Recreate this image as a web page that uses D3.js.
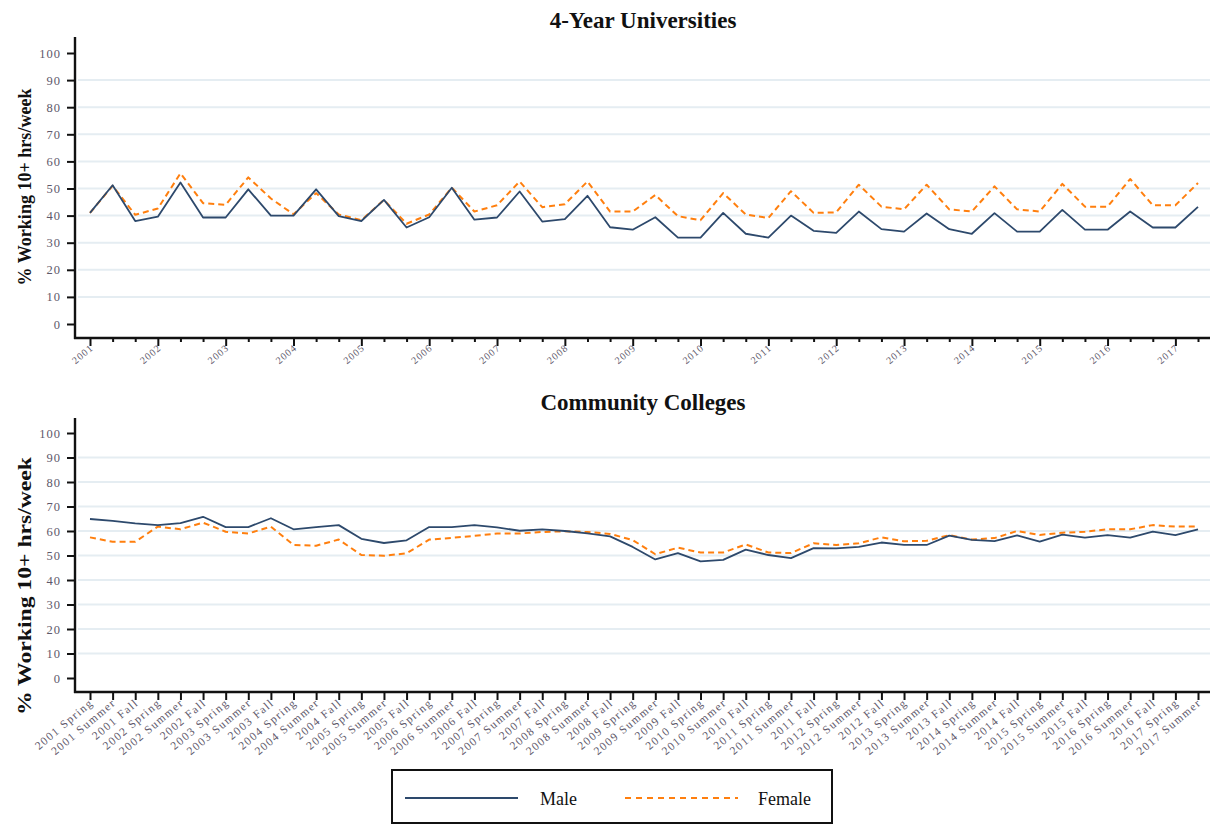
<!DOCTYPE html>
<html>
<head>
<meta charset="utf-8">
<script src="https://cdn.jsdelivr.net/npm/d3@7"></script>
<style>
  body { margin: 0; background: #fff; }
  svg { display: block; }
</style>
</head>
<body>
<svg id="chart" width="1210" height="826"></svg>
<script>
// Terms: spring 2001 through summer 2017
const years = [2001, 2002, 2003, 2004, 2005, 2006, 2007, 2008, 2009,
               2010, 2011, 2012, 2013, 2014, 2015, 2016, 2017];
const seasons = ["Spring", "Summer", "Fall"];
const yTicks = [0, 10, 20, 30, 40, 50, 60, 70, 80, 90, 100];
const seriesNames = ["Male", "Female"];

// % working 10+ hrs/week, 4-year universities
const univMale = [41, 51.2, 38, 39.6, 52.2, 39.3, 39.3, 49.7, 40, 40,
  49.7, 39.8, 38, 45.8, 35.6, 39.4, 50.3, 38.5, 39.3, 48.9,
  37.8, 38.7, 47.3, 35.7, 34.8, 39.4, 31.9, 31.9, 41, 33.3,
  31.9, 40, 34.4, 33.6, 41.5, 35, 34.1, 40.8, 35, 33.3,
  40.9, 34.1, 34.1, 42.1, 34.8, 34.8, 41.5, 35.6, 35.6, 43.2];
const univFemale = [41, 51, 40.3, 42.6, 55.6, 44.6, 44, 54.1, 46.3, 40.5,
  48.3, 40.4, 38.3, 45.8, 37, 40.4, 50.3, 41.5, 43.8, 52.6,
  43.1, 44.2, 52.6, 41.5, 41.5, 47.6, 39.8, 38.3, 48.3, 40.4,
  39.1, 49, 41, 41.2, 51.4, 43.3, 42.3, 51.4, 42.3, 41.5,
  50.8, 42.3, 41.5, 51.7, 43.3, 43.3, 53.5, 43.8, 43.8, 52];

// % working 10+ hrs/week, community colleges
const commMale = [64.9, 64.1, 63.1, 62.4, 63.2, 65.8, 61.6, 61.6, 65.2, 60.7,
  61.6, 62.4, 56.8, 55.1, 56.2, 61.6, 61.6, 62.4, 61.5, 60.1,
  60.7, 60, 59, 57.8, 53.5, 48.4, 51, 47.6, 48.2, 52.4,
  50.2, 48.9, 53, 52.9, 53.5, 55.3, 54.3, 54.3, 58.1, 56.4,
  55.9, 58.2, 55.7, 58.5, 57.3, 58.3, 57.3, 59.7, 58.3, 60.7];
const commFemale = [57.4, 55.6, 55.6, 61.8, 60.7, 63.4, 59.7, 59, 61.8, 54.3,
  54, 56.5, 50.2, 49.9, 50.9, 56.5, 57.2, 58, 59, 59,
  59.6, 59.9, 59.6, 58.8, 56.3, 50.5, 53.2, 51.2, 51.2, 54.5,
  51.2, 51, 55, 54.3, 55, 57.4, 55.8, 56, 58.3, 56.5,
  57.1, 60, 58.4, 59.3, 59.7, 60.7, 60.7, 62.4, 61.8, 61.8];

// Build the term list (the series stops after summer 2017)
const terms = [];
years.forEach(yr => seasons.forEach(s => terms.push({ year: yr, season: s, key: yr + " " + s })));
terms.splice(univMale.length);
const termKeys = terms.map(t => t.key);

const COLORS = { Male: "#2d496c", Female: "#ff7f0e" };
const SERIF = "'Liberation Serif', 'Times New Roman', serif";
const LABEL_COLOR = "#5e586a";

const svg = d3.select("#chart");

function panel(cfg) {
  const g = svg.append("g");
  const x = d3.scalePoint(termKeys, [90, 1198]);
  const y = d3.scaleLinear([0, 100], [cfg.y0, cfg.y100]);

  // horizontal grid
  g.append("g").selectAll("line")
    .data(yTicks.filter(v => v > 0 && v < 100))
    .join("line")
    .attr("x1", 78).attr("x2", 1210)
    .attr("y1", d => y(d)).attr("y2", d => y(d))
    .attr("stroke", "#e5edf2").attr("stroke-width", 2);

  // y axis
  const yAxis = g.append("g").attr("transform", "translate(75,0)")
    .call(d3.axisLeft(y).tickValues(yTicks).tickSize(8).tickPadding(6));
  yAxis.select(".domain").remove();
  yAxis.selectAll(".tick line").attr("stroke", "#111").attr("stroke-width", 2);
  yAxis.selectAll(".tick text")
    .attr("font-family", SERIF).attr("font-size", 12.5)
    .attr("fill", LABEL_COLOR).attr("letter-spacing", 1);
  g.append("line").attr("x1", 75).attr("x2", 75)
    .attr("y1", cfg.axisTop).attr("y2", cfg.axisBottom + 1)
    .attr("stroke", "#111").attr("stroke-width", 2.4);

  // x axis
  const xAxis = g.append("g").attr("transform", `translate(0,${cfg.axisBottom})`)
    .call(d3.axisBottom(x).tickValues(termKeys).tickSize(8).tickFormat(""));
  xAxis.select(".domain").remove();
  xAxis.selectAll(".tick line").attr("stroke", "#111").attr("stroke-width", 2)
    .attr("y2", (d, i) => cfg.yearOnly && terms[i].season !== "Spring" ? 4 : 8);
  g.append("line").attr("x1", 74).attr("x2", 1210)
    .attr("y1", cfg.axisBottom).attr("y2", cfg.axisBottom)
    .attr("stroke", "#111").attr("stroke-width", 2.4);

  const labelTerms = cfg.yearOnly ? terms.filter(t => t.season === "Spring") : terms;
  g.append("g").selectAll("text")
    .data(labelTerms)
    .join("text")
    .attr("transform", d => `translate(${x(d.key) + 4},${cfg.axisBottom + (cfg.yearOnly ? 11 : 12)}) rotate(-40)`)
    .attr("text-anchor", "end")
    .attr("font-family", SERIF)
    .attr("font-size", cfg.yearOnly ? 10 : 11.5)
    .attr("letter-spacing", cfg.yearOnly ? 1 : 1.4)
    .attr("fill", LABEL_COLOR)
    .text(d => cfg.yearOnly ? d.year : d.key);

  // title
  g.append("text")
    .attr("x", 643).attr("y", cfg.titleY)
    .attr("text-anchor", "middle")
    .attr("font-family", SERIF).attr("font-weight", "bold").attr("font-size", 23)
    .attr("fill", "#111")
    .text(cfg.title);

  // y label
  g.append("text")
    .attr("transform", `translate(31,${cfg.labelY}) rotate(-90)`)
    .attr("text-anchor", "middle")
    .attr("font-family", SERIF).attr("font-weight", "bold").attr("font-size", 18)
    .attr("textLength", cfg.labelLen).attr("lengthAdjust", "spacingAndGlyphs")
    .attr("fill", "#111")
    .text("% Working 10+ hrs/week");

  const line = d3.line().x((d, i) => x(termKeys[i])).y(d => y(d));
  [["Female", cfg.female], ["Male", cfg.male]].forEach(([name, vals]) => {
    g.append("path")
      .datum(vals)
      .attr("d", line)
      .attr("fill", "none")
      .attr("stroke", COLORS[name])
      .attr("stroke-width", name === "Male" ? 1.8 : 2)
      .attr("stroke-dasharray", name === "Female" ? "6,4" : null)
      .attr("stroke-linejoin", "round");
  });
}

panel({ title: "4-Year Universities", titleY: 28, y0: 324, y100: 53,
        axisTop: 37, axisBottom: 338, labelY: 187, labelLen: 197, yearOnly: true,
        male: univMale, female: univFemale });
panel({ title: "Community Colleges", titleY: 410, y0: 678, y100: 433,
        axisTop: 418, axisBottom: 692, labelY: 586, labelLen: 258, yearOnly: false,
        male: commMale, female: commFemale });

// legend
const lg = svg.append("g");
lg.append("rect").attr("x", 392).attr("y", 770).attr("width", 440).attr("height", 53)
  .attr("fill", "#fff").attr("stroke", "#111").attr("stroke-width", 2);
const legendItems = [
  { name: seriesNames[0], x1: 405, x2: 518, tx: 540 },
  { name: seriesNames[1], x1: 625, x2: 738, tx: 758 }
];
legendItems.forEach(it => {
  lg.append("line").attr("x1", it.x1).attr("x2", it.x2).attr("y1", 798).attr("y2", 798)
    .attr("stroke", COLORS[it.name]).attr("stroke-width", 2)
    .attr("stroke-dasharray", it.name === "Female" ? "6,5" : null);
  lg.append("text").attr("x", it.tx).attr("y", 805)
    .attr("font-family", SERIF).attr("font-size", 18).attr("fill", "#111")
    .text(it.name);
});
</script>
</body>
</html>
